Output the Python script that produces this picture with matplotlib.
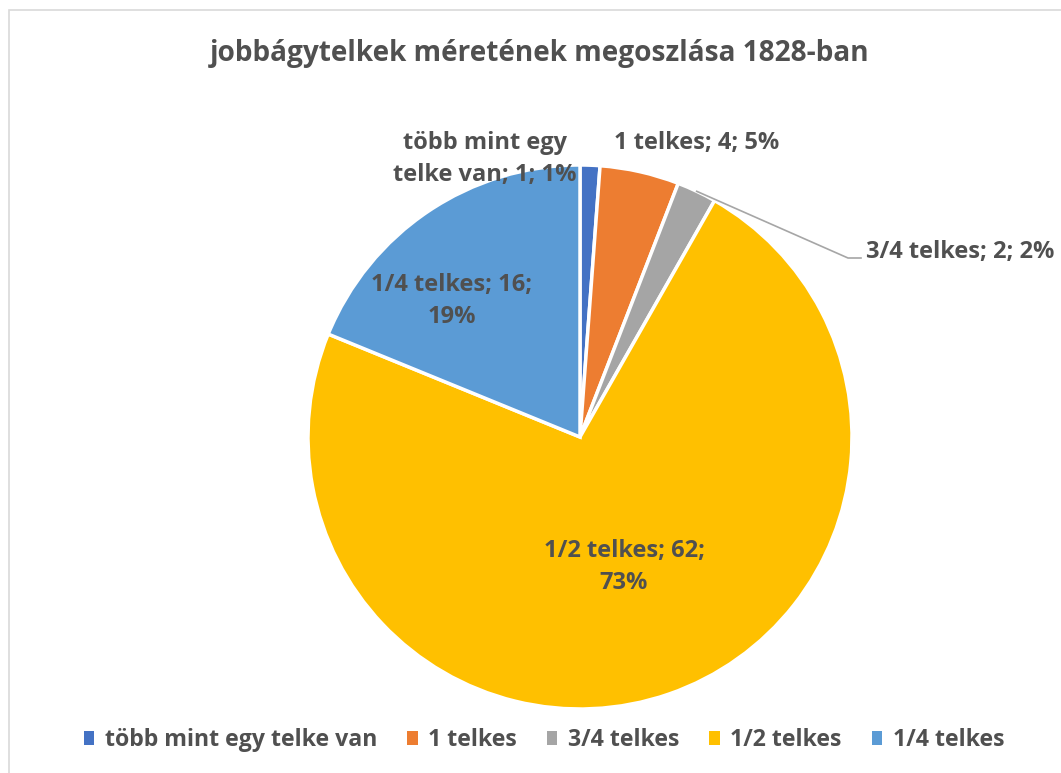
import numpy as np
import matplotlib.pyplot as plt
from matplotlib.patches import Rectangle

plt.rcParams['font.family'] = ['Open Sans', 'DejaVu Sans']

# Data
labels = ["több mint egy telke van", "1 telkes", "3/4 telkes", "1/2 telkes", "1/4 telkes"]
counts = [1, 4, 2, 62, 16]
colors = ["#4472C4", "#ED7D31", "#A5A5A5", "#FFC000", "#5B9BD5"]
label_texts = ["több mint egy\ntelke van; 1; 1%", "1 telkes; 4; 5%", "3/4 telkes; 2; 2%",
               "1/2 telkes; 62;\n73%", "1/4 telkes; 16;\n19%"]

W, H = 1061, 773
cx, cy, R = 580, 437, 272
txt_color = "#505050"

fig = plt.figure(figsize=(W / 100, H / 100), dpi=100)
fig.patches.append(Rectangle((9 / W, -0.1), 1.2, 1.1 - 10 / H, transform=fig.transFigure,
                             fill=False, edgecolor="#D9D9D9", linewidth=1.2))

ax = fig.add_axes([(cx - R) / W, (H - cy - R) / H, 2 * R / W, 2 * R / H])
ax.pie(counts, colors=colors, startangle=90, counterclock=False, radius=1,
       wedgeprops=dict(edgecolor="white", linewidth=2.5))
ax.set_xlim(-1, 1)
ax.set_ylim(-1, 1)
ax.set_aspect("equal")
ax.axis("off")


def px(x, y):
    return (x - cx) / R, (cy - y) / R


# data label positions (pixel layout)
label_pos = [(485, 159, "center"), (697, 143, "center"), (866, 252, "left"),
             (624, 567, "center"), (452, 301, "center")]
for t, (x, y, ha) in zip(label_texts, label_pos):
    lx, ly = px(x, y)
    ax.text(lx, ly, t, ha=ha, va="center", fontsize=17, fontweight="bold",
            color=txt_color, linespacing=1.45, clip_on=False)

# leader line for the 3/4 slice
total = sum(counts)
mid = (sum(counts[:2]) + counts[2] / 2) / total * 360
a = np.deg2rad(90 - mid)
ex, ey = np.cos(a), np.sin(a)
bx, by = px(848, 258)
fx, fy = px(861, 258)
ax.plot([ex, bx, fx], [ey, by, fy], color="#A6A6A6", linewidth=1.2, clip_on=False)

fig.text(540 / W, 1 - 53 / H, "jobbágytelkek méretének megoszlása 1828-ban",
         ha="center", va="center", fontsize=20.2, fontweight="bold", color=txt_color)

handles = [Rectangle((0, 0), 1, 1, facecolor=c) for c in colors]
leg = fig.legend(handles, labels, loc="center", bbox_to_anchor=(544 / W, 1 - 740 / H),
                 ncol=5, frameon=False, fontsize=16.7, handlelength=0.45, handleheight=0.55,
                 handletextpad=0.45, columnspacing=1.3)
for t in leg.get_texts():
    t.set_color(txt_color)
    t.set_fontweight("bold")

fig.savefig("out.png", dpi=100)
